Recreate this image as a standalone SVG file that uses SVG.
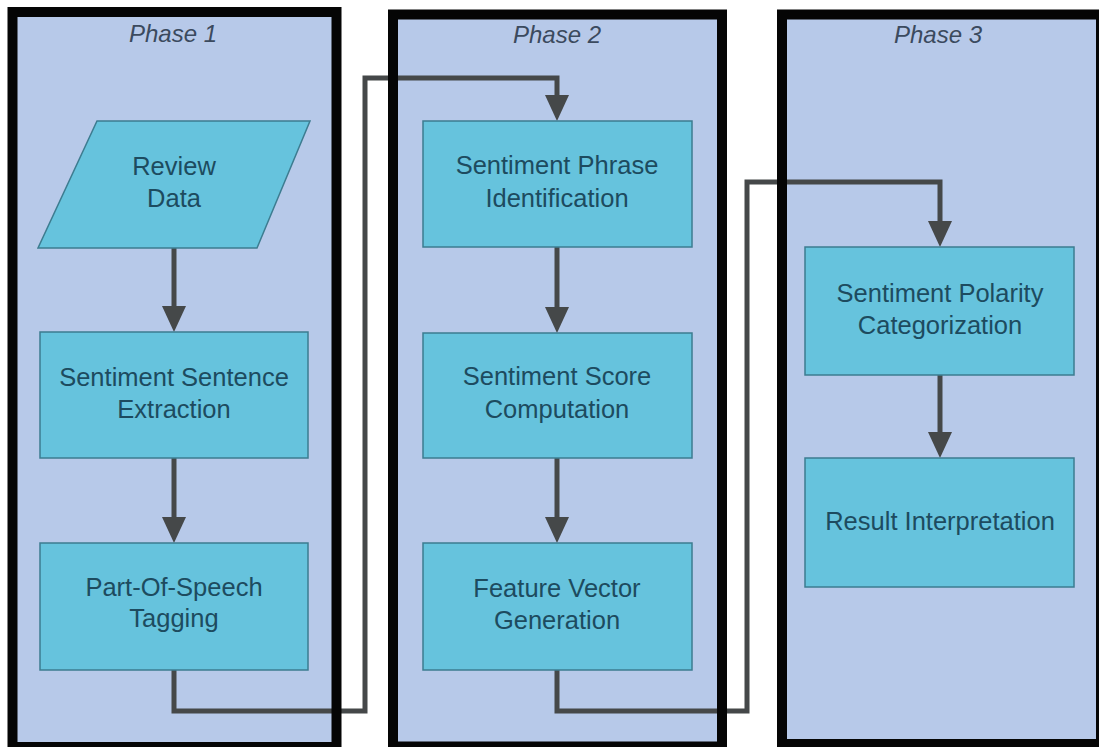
<svg xmlns="http://www.w3.org/2000/svg" width="1099" height="747" viewBox="0 0 1099 747">
  <style>
    .frame { fill: #b7c9e9; }
    .border { fill: none; stroke: #050505; stroke-width: 10; }
    .title { font-family: "Liberation Sans", Arial, sans-serif; font-style: italic; font-size: 24px; fill: #3b4a5e; text-anchor: middle; }
    .box { fill: #66c3dd; stroke: #3d7c90; stroke-width: 1.5; }
    .label { font-family: "Liberation Sans", Arial, sans-serif; font-size: 25.5px; fill: #1d4b5f; text-anchor: middle; }
    .conn { fill: none; stroke: #454849; stroke-width: 5; }
  </style>
  <defs>
    <marker id="arrow" markerUnits="userSpaceOnUse" viewBox="0 0 26 24" markerWidth="26" markerHeight="24" refX="16" refY="12" orient="auto">
      <path d="M0,0 L26,12 L0,24 z" fill="#454849"/>
    </marker>
  </defs>
  <rect x="0" y="0" width="1099" height="747" fill="#ffffff"/>

  <g id="phase1">
    <rect class="frame" x="12.5" y="12" width="324" height="735"/>
    <text class="title" x="173" y="42">Phase 1</text>
  </g>
  <g id="phase2">
    <rect class="frame" x="393" y="14.5" width="329" height="732"/>
    <text class="title" x="557" y="43">Phase 2</text>
  </g>
  <g id="phase3">
    <rect class="frame" x="782" y="14.5" width="319" height="729.5"/>
    <text class="title" x="938" y="43">Phase 3</text>
  </g>

  <g id="connectors">
    <path class="conn" d="M174,248 V322" marker-end="url(#arrow)"/>
    <path class="conn" d="M174,458 V533" marker-end="url(#arrow)"/>
    <path class="conn" d="M557,247 V323" marker-end="url(#arrow)"/>
    <path class="conn" d="M557,458 V533" marker-end="url(#arrow)"/>
    <path class="conn" d="M940,375 V448" marker-end="url(#arrow)"/>
    <path class="conn" d="M174,670 V711 H365 V78 H557 V111" marker-end="url(#arrow)"/>
    <path class="conn" d="M557,670 V711 H747 V182 H940 V237" marker-end="url(#arrow)"/>
  </g>

  <g id="borders">
    <rect class="border" x="12.5" y="12" width="324" height="735"/>
    <rect class="border" x="393" y="14.5" width="329" height="732"/>
    <rect class="border" x="782" y="14.5" width="319" height="729.5"/>
  </g>

  <g id="review-data">
    <polygon class="box" points="97,121 310,121 257,248 38,248"/>
    <text class="label" x="174" y="175">Review</text>
    <text class="label" x="174" y="207">Data</text>
  </g>
  <g id="sentence-extraction">
    <rect class="box" x="40" y="332" width="268" height="126"/>
    <text class="label" x="174" y="386">Sentiment Sentence</text>
    <text class="label" x="174" y="418">Extraction</text>
  </g>
  <g id="pos-tagging">
    <rect class="box" x="40" y="543" width="268" height="127"/>
    <text class="label" x="174" y="596">Part-Of-Speech</text>
    <text class="label" x="174" y="627">Tagging</text>
  </g>
  <g id="phrase-identification">
    <rect class="box" x="423" y="121" width="269" height="126"/>
    <text class="label" x="557" y="174">Sentiment Phrase</text>
    <text class="label" x="557" y="207">Identification</text>
  </g>
  <g id="score-computation">
    <rect class="box" x="423" y="333" width="269" height="125"/>
    <text class="label" x="557" y="385">Sentiment Score</text>
    <text class="label" x="557" y="418">Computation</text>
  </g>
  <g id="feature-vector">
    <rect class="box" x="423" y="543" width="269" height="127"/>
    <text class="label" x="557" y="597">Feature Vector</text>
    <text class="label" x="557" y="629">Generation</text>
  </g>
  <g id="polarity-categorization">
    <rect class="box" x="805" y="247" width="269" height="128"/>
    <text class="label" x="940" y="302">Sentiment Polarity</text>
    <text class="label" x="940" y="334">Categorization</text>
  </g>
  <g id="result-interpretation">
    <rect class="box" x="805" y="458" width="269" height="129"/>
    <text class="label" x="940" y="530">Result Interpretation</text>
  </g>
</svg>
